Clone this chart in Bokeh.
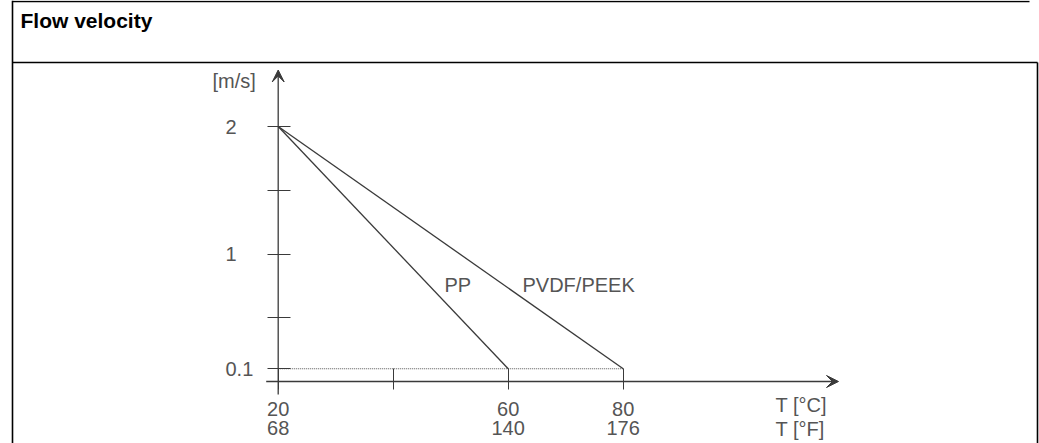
from bokeh.plotting import figure
from bokeh.models import (Range1d, LinearAxis, FixedTicker, Arrow, VeeHead, Label)
from bokeh.embed import file_html
from bokeh.resources import INLINE
from bokeh.core.properties import value

# ---------------- data ----------------
temps_c = [20, 40, 60, 80]
temps_c_labels = ["20", "", "60", "80"]
temps_f_labels = ["68", "", "140", "176"]
vel_ticks = [0.1, 1, 2]
vel_minor = [0.5, 1.5]
vel_labels = ["0.1", "1", "2"]
pp_t = [20, 60]
pp_v = [2, 0.1]
pvdf_t = [20, 80]
pvdf_v = [2, 0.1]
min_t = [20, 80]
min_v = [0.1, 0.1]
series_names = ["PP", "PVDF/PEEK"]

# ---------------- layout / style ----------------
W, H = 1039, 443
X20, XS = 277.7, 5.75     # canvas px of 20 °C, px per °C
Y0, YS = 381.0, 127.5     # canvas px of 0 m/s, px per m/s


def tx(px):
    return 20 + (px - X20) / XS


def vy(py):
    return (Y0 - py) / YS


FONT = "Liberation Sans"
TXT = "#555555"
LINE = "#3a3a3a"
FS = "20px"

p = figure(width=W, height=H, output_backend="svg", toolbar_location=None,
           x_range=Range1d(tx(0), tx(W)),
           y_range=Range1d(vy(H), vy(0)),
           x_axis_type=None, y_axis_type=None, min_border=0)
p.title.visible = False
p.outline_line_color = None
p.background_fill_color = "white"
p.border_fill_color = "white"

# table frame + header
frame_segments = [
    ((12, 1), (1029, 1)),      # top
    ((12, 0), (12, 460)),      # left
    ((12, 62), (1037, 62)),    # header separator
    ((1037, 62), (1037, 460)), # right
]
for (xa, ya_), (xb, yb) in frame_segments:
    p.add_layout(Arrow(x_start=tx(xa), y_start=vy(ya_), x_end=tx(xb), y_end=vy(yb),
                       start=None, end=None, line_color="black", line_width=1.6))
p.add_layout(Label(x=tx(20), y=vy(20), text="Flow velocity", text_baseline="middle",
                   text_font=FONT, text_font_size="21px", text_font_style="bold",
                   text_color="black"))

# axes (ticks + labels) at fixed locations
common = dict(axis_line_color=None, major_label_text_font=FONT,
              major_label_text_font_size=FS, major_label_text_color=TXT)
xc = LinearAxis(fixed_location=0,
                ticker=FixedTicker(ticks=temps_c, minor_ticks=[]),
                major_label_overrides=dict(zip(temps_c, temps_c_labels)),
                major_tick_in=13, major_tick_out=8, major_tick_line_color=LINE,
                minor_tick_line_color=None, major_label_standoff=12, **common)
p.add_layout(xc, "below")
xf = LinearAxis(fixed_location=0,
                ticker=FixedTicker(ticks=temps_c, minor_ticks=[]),
                major_label_overrides=dict(zip(temps_c, temps_f_labels)),
                major_tick_in=0, major_tick_out=0, major_tick_line_color=None,
                minor_tick_line_color=None, major_label_standoff=39, **common)
p.add_layout(xf, "below")
ya = LinearAxis(fixed_location=min(temps_c),
                ticker=FixedTicker(ticks=vel_ticks, minor_ticks=vel_minor),
                major_label_overrides={t: "" for t in vel_ticks},
                major_tick_in=12, major_tick_out=11, minor_tick_in=12, minor_tick_out=11,
                major_tick_line_color=LINE, minor_tick_line_color=LINE, **common)
p.add_layout(ya, "left")
# y tick labels, left aligned as in the original drawing
p.text(x=[tx(225)] * len(vel_ticks), y=vel_ticks, text=vel_labels,
       text_align="left", text_baseline="middle", text_font=value(FONT),
       text_font_size=FS, text_color=TXT)

# axis lines with arrow heads
p.add_layout(Arrow(x_start=tx(265.7), y_start=0, x_end=tx(838), y_end=0,
                   line_color=LINE, line_width=1.3,
                   end=VeeHead(size=12, fill_color=LINE, line_color=LINE, line_width=1)))
p.add_layout(Arrow(x_start=min(temps_c), y_start=vy(394), x_end=min(temps_c), y_end=vy(69.5),
                   line_color=LINE, line_width=1.3,
                   end=VeeHead(size=12, fill_color=LINE, line_color=LINE, line_width=1)))

# data lines
p.line(min_t, min_v, line_color="#555555", line_width=1, line_dash="1 1")
p.line(pp_t, pp_v, line_color=LINE, line_width=1.3)
p.line(pvdf_t, pvdf_v, line_color=LINE, line_width=1.3)

# series labels
for name, lx in zip(series_names, [tx(444), tx(522)]):
    p.add_layout(Label(x=lx, y=vy(284), text=name, text_baseline="middle",
                       text_font=FONT, text_font_size=FS, text_color=TXT))

# unit labels
p.add_layout(Label(x=tx(212), y=vy(80), text="[m/s]", text_baseline="middle",
                   text_font=FONT, text_font_size=FS, text_color=TXT))
p.add_layout(Label(x=tx(775), y=vy(404), text="T [°C]", text_baseline="middle",
                   text_font=FONT, text_font_size=FS, text_color=TXT))
p.add_layout(Label(x=tx(775), y=vy(428), text="T [°F]", text_baseline="middle",
                   text_font=FONT, text_font_size=FS, text_color=TXT))

open("out.html", "w").write(file_html(p, INLINE))
